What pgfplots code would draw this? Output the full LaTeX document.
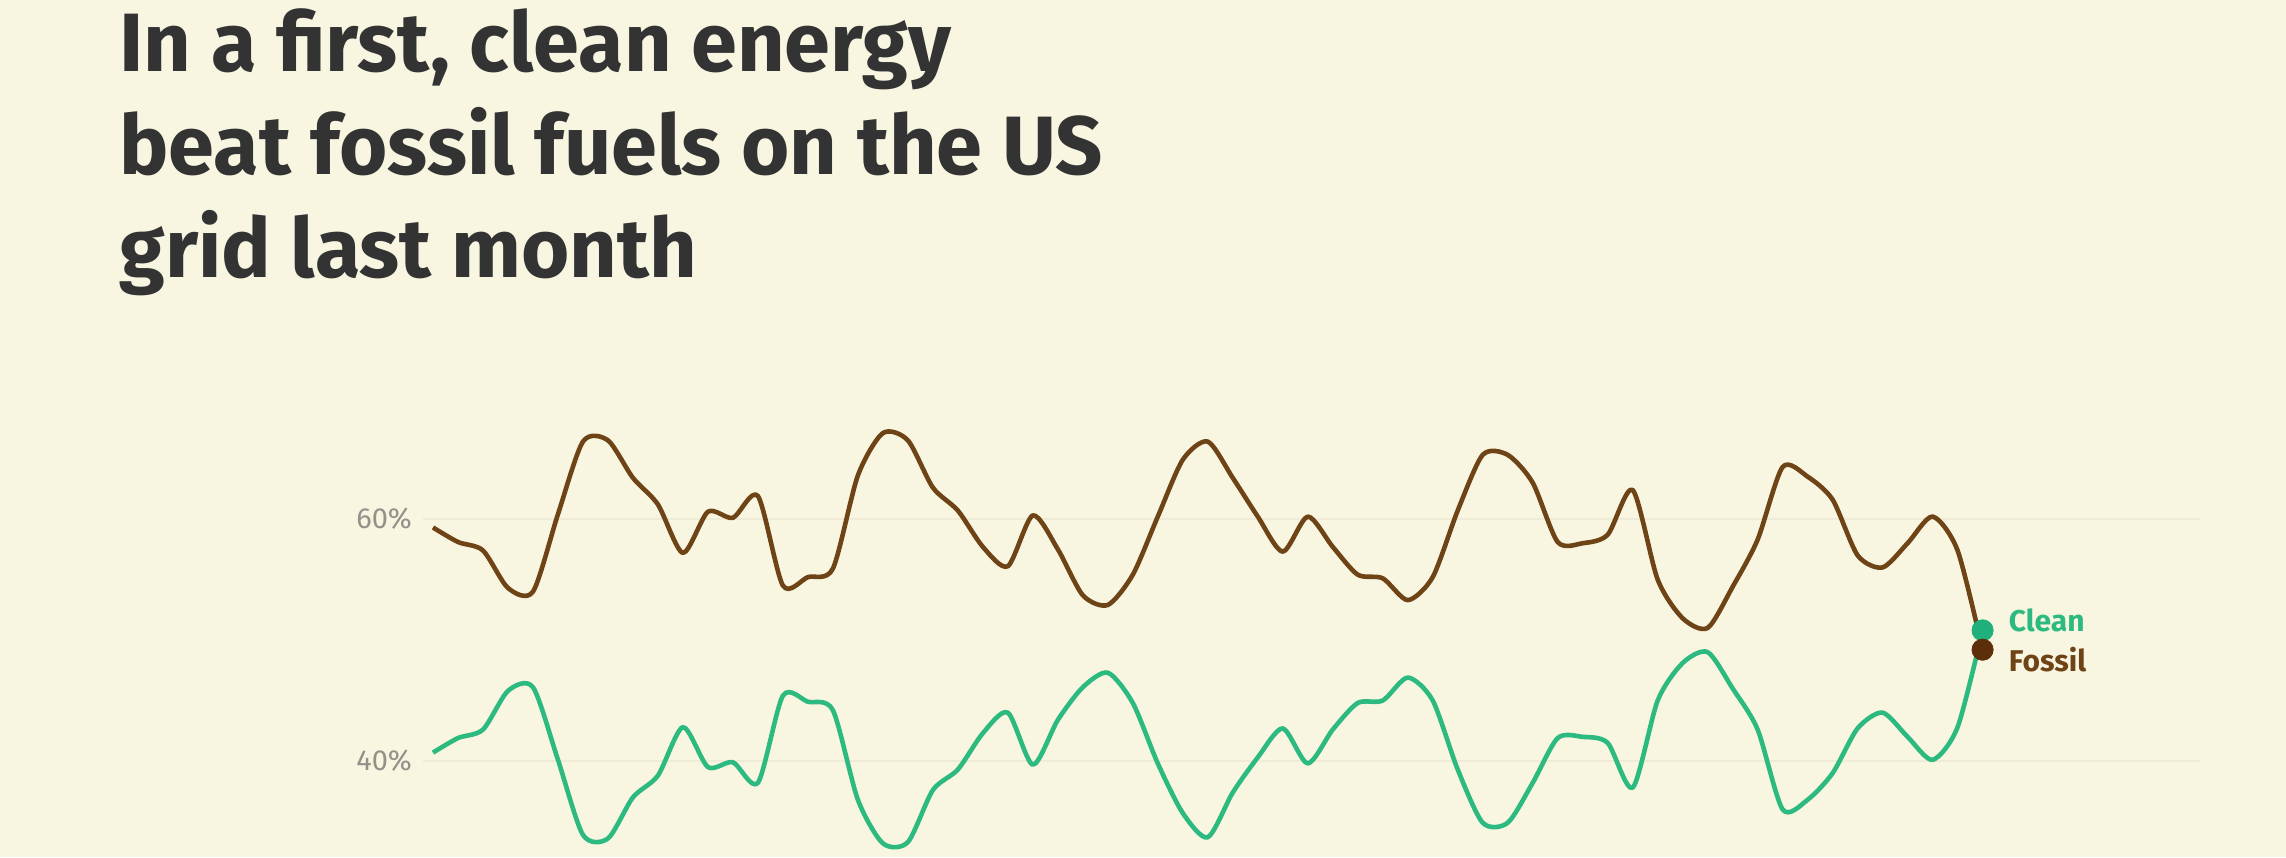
\documentclass[border=0pt]{standalone}
\usepackage{pgfplots}
\pgfplotsset{compat=1.18}
\usepackage{fontspec}
\setmainfont{Fira Sans}
\definecolor{bg}{HTML}{F8F5E1}
\definecolor{titlecol}{HTML}{333333}
\definecolor{tickcol}{HTML}{939189}
\definecolor{gridcol}{HTML}{EFEBD7}
\definecolor{fossil}{HTML}{6E4416}
\definecolor{fossildot}{HTML}{5C2E0A}
\definecolor{clean}{HTML}{2DBA80}
\definecolor{cleandot}{HTML}{1FB07C}
\pgfplotstableread{
k fossil
0 59.3
1 58.1
2 57.4
3 54.3
4 54.0
5 60.4
6 66.4
7 66.5
8 63.4
9 61.2
10 57.2
11 60.6
12 60.1
13 61.9
14 54.5
15 55.2
16 55.9
17 63.6
18 67.1
19 66.5
20 62.6
21 60.7
22 57.7
23 56.1
24 60.3
25 57.5
26 53.7
27 52.9
28 55.4
29 60.2
30 64.9
31 66.4
32 63.4
33 60.2
34 57.3
35 60.2
36 57.7
37 55.4
38 55.1
39 53.3
40 55.2
41 60.7
42 65.3
43 65.3
44 63.0
45 58.1
46 58.0
47 58.7
48 62.4
49 55.0
50 51.8
51 51.0
52 54.4
53 58.3
54 64.3
55 63.5
56 61.6
57 57.0
58 56.0
59 58.0
60 60.2
61 57.4
62 49.2
}\fossiltable
\pgfplotstableread{
k clean
0 40.7
1 41.9
2 42.6
3 45.8
4 46.1
5 40.1
6 33.9
7 33.6
8 37.0
9 38.8
10 42.8
11 39.5
12 39.9
13 38.2
14 45.4
15 44.9
16 44.2
17 36.8
18 33.2
19 33.3
20 37.6
21 39.3
22 42.3
23 44.0
24 39.7
25 43.4
26 46.1
27 47.3
28 44.8
29 39.8
30 35.7
31 33.7
32 37.4
33 40.3
34 42.7
35 39.8
36 42.6
37 44.8
38 45.0
39 46.9
40 45.0
41 39.3
42 34.9
43 34.9
44 38.2
45 41.9
46 42.0
47 41.5
48 37.8
49 45.0
50 48.1
51 49.0
52 46.0
53 42.6
54 36.0
55 36.8
56 39.0
57 42.7
58 44.0
59 42.0
60 40.1
61 42.8
62 50.8
}\cleantable
\begin{document}
\begin{tikzpicture}
\fill[bg] (0pt,0pt) rectangle (1143pt,428.5pt);
\useasboundingbox (0pt,0pt) rectangle (1143pt,428.5pt);
\begin{scope}[every node/.style={anchor=base west, inner sep=0pt, text=titlecol,
  font=\fontsize{41.4}{51.5}\selectfont\bfseries}]
\node at (59.5pt,392.5pt) {In a first, clean energy};
\node at (59.5pt,341pt) {beat fossil fuels on the US};
\node at (59.5pt,289.5pt) {grid last month};
\end{scope}
\begin{axis}[
  at={(211.5pt,0pt)}, anchor=south west,
  width=888.5pt, height=242.5pt, scale only axis,
  xmin=-0.4, xmax=70.7, ymin=32.07, ymax=72.15,
  axis line style={draw=none},
  major tick length=0pt,
  xtick=\empty,
  ytick={40,60}, yticklabels={40\%,60\%},
  yticklabel style={font=\fontsize{14.5}{16}\selectfont, text=tickcol, xshift=-2pt},
  ymajorgrids, grid style={draw=gridcol, line width=1pt},
  clip=false,
]
\addplot[fossil, line width=2.3pt, smooth, tension=0.45, line join=round] table[x=k, y=fossil] {\fossiltable};
\addplot[clean, line width=2.3pt, smooth, tension=0.45, line join=round] table[x=k, y=clean] {\cleantable};
\addplot[cleandot, only marks, mark=*, mark size=5.3pt, mark options={draw=cleandot, fill=cleandot}] coordinates {(62,50.8)};
\addplot[fossildot, only marks, mark=*, mark size=5.3pt, mark options={draw=fossildot, fill=fossildot}] coordinates {(62,49.2)};
\node[anchor=west, inner sep=0pt, xshift=13pt, text=clean, font=\fontsize{15}{17}\selectfont\bfseries] at (axis cs:62,51.65) {Clean};
\node[anchor=west, inner sep=0pt, xshift=13pt, text=fossil, font=\fontsize{15}{17}\selectfont\bfseries] at (axis cs:62,48.35) {Fossil};
\end{axis}
\end{tikzpicture}
\end{document}
